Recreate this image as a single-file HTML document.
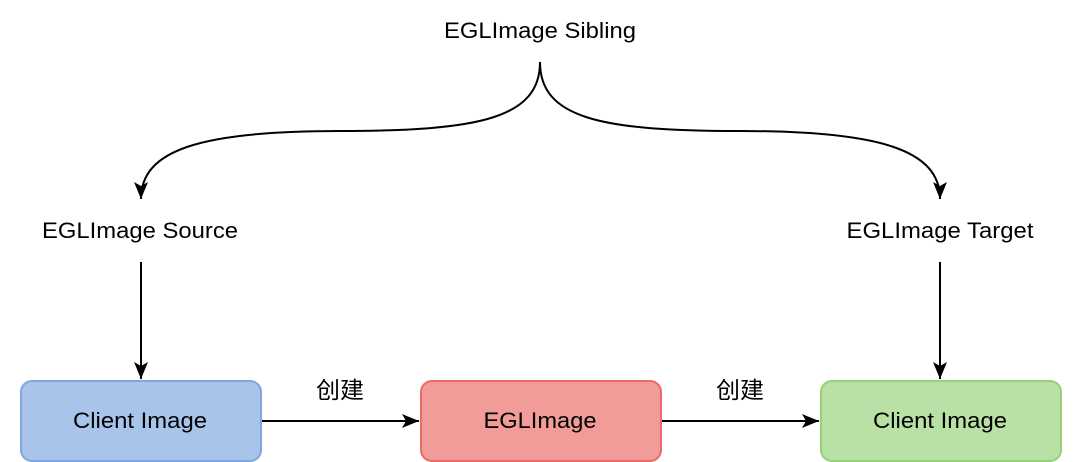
<!DOCTYPE html>
<html><head><meta charset="utf-8"><style>
body{margin:0;background:#fff;}
svg{display:block;font-family:"Liberation Sans","Noto Sans CJK SC",sans-serif;}
</style></head><body>
<svg width="1082" height="462" viewBox="0 0 1082 462">
<defs>
<marker id="b" markerWidth="18" markerHeight="18" refX="17" refY="9" orient="auto" markerUnits="userSpaceOnUse"><path d="M0,2 L17,9 L0,16 L4,9 Z" fill="#000"/></marker></defs>
<g fill="none" stroke="#000" stroke-width="2">
<path d="M540,62 C540,118 480,131 340,131 C200,131 141,150 141,199" marker-end="url(#b)"/>
<path d="M540,62 C540,118 600,131 740,131 C880,131 940,150 940,199" marker-end="url(#b)"/>
<path d="M141,262 L141,379" marker-end="url(#b)"/>
<path d="M940,262 L940,379" marker-end="url(#b)"/>
<path d="M262,421 L419,421" marker-end="url(#b)"/>
<path d="M662,421 L819,421" marker-end="url(#b)"/>
</g>
<rect x="21" y="381" width="240" height="80" rx="11" fill="#a9c4eb" stroke="#7ea6e0" stroke-width="2"/>
<rect x="421" y="381" width="240" height="80" rx="11" fill="#f19c99" stroke="#ea6b66" stroke-width="2"/>
<rect x="821" y="381" width="240" height="80" rx="11" fill="#b9e0a5" stroke="#97d077" stroke-width="2"/>
<g font-size="22" fill="#000" text-anchor="middle">
<text x="540" y="38" textLength="192" lengthAdjust="spacingAndGlyphs">EGLImage Sibling</text>
<text x="140" y="238" textLength="196" lengthAdjust="spacingAndGlyphs">EGLImage Source</text>
<text x="940" y="238" textLength="187" lengthAdjust="spacingAndGlyphs">EGLImage Target</text>
<text x="140" y="428" textLength="134" lengthAdjust="spacingAndGlyphs">Client Image</text>
<text x="540" y="428" textLength="113" lengthAdjust="spacingAndGlyphs">EGLImage</text>
<text x="940" y="428" textLength="134" lengthAdjust="spacingAndGlyphs">Client Image</text>
<text x="340" y="398" font-size="23" textLength="48" lengthAdjust="spacingAndGlyphs">创建</text>
<text x="740" y="398" font-size="23" textLength="48" lengthAdjust="spacingAndGlyphs">创建</text>
</g>
</svg>
</body></html>
